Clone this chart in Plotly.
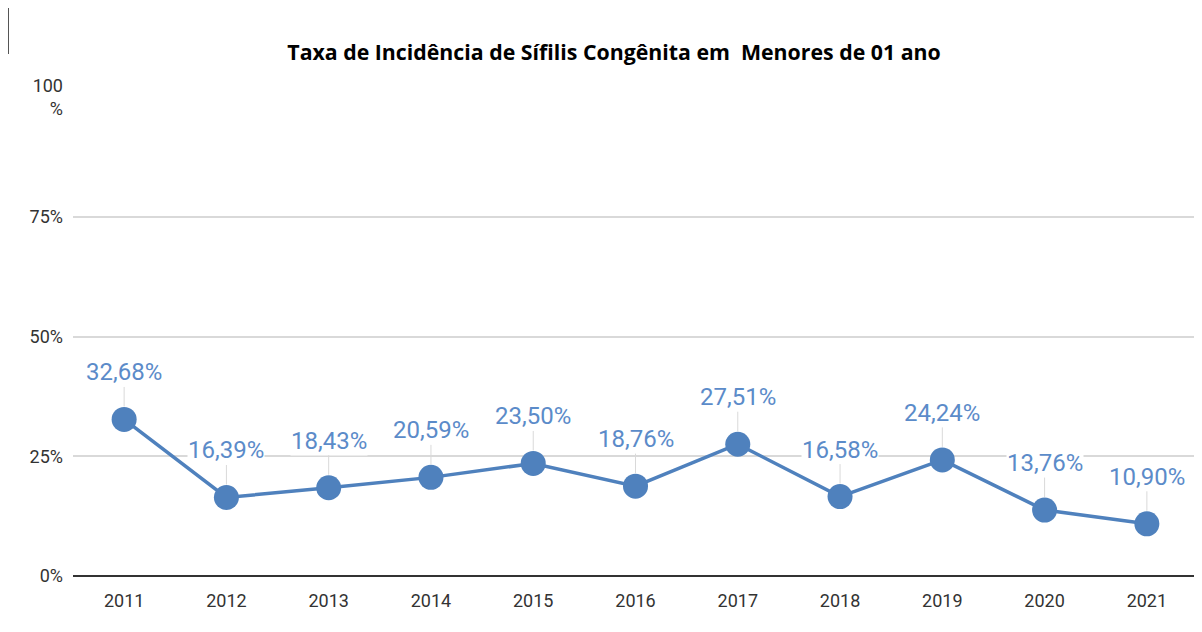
import plotly.graph_objects as go

years = ["2011", "2012", "2013", "2014", "2015", "2016", "2017", "2018", "2019", "2020", "2021"]
rates = [32.68, 16.39, 18.43, 20.59, 23.50, 18.76, 27.51, 16.58, 24.24, 13.76, 10.90]
ytick_vals = [0, 25, 50, 75, 100]
ytick_text = ["0%", "25%", "50%", "75%", "100<br>%"]
title_text = "Taxa de Incidência de Sífilis Congênita em  Menores de 01 ano"

line_color = "#4f81bd"
label_color = "#5b8bc9"

L, T, R, B = 65, 89, 12, 64
PW, PH = 1202 - L - R, 632 - T - B

fig = go.Figure()
fig.add_trace(go.Scatter(
    x=years, y=rates, mode="lines+markers",
    line=dict(color=line_color, width=3.5),
    marker=dict(color=line_color, size=25),
    hoverinfo="skip", showlegend=False,
))

for i, v in enumerate(rates):
    fig.add_annotation(
        x=i, y=v, xref="x", yref="y",
        text=f"{v:.2f}".replace(".", ",") + "%",
        showarrow=True, arrowhead=0, arrowwidth=1, arrowcolor="#d9d9d9",
        ax=0, ay=-47, standoff=13,
        bgcolor="white", borderpad=0,
        font=dict(family="Roboto", size=24, color=label_color),
    )

fig.update_layout(
    width=1202, height=632,
    paper_bgcolor="white", plot_bgcolor="white",
    margin=dict(l=L, r=R, t=T, b=B, autoexpand=False),
    title=dict(text="<b>" + title_text + "</b>", x=(L + 541) / 1202, xanchor="center",
               y=1 - 45 / 632, yanchor="middle",
               font=dict(family="Open Sans", size=21.3, color="#000000")),
    xaxis=dict(type="category", range=[-0.5, len(years) - 0.5],
               showgrid=False, showline=False, ticks="", ticklabelstandoff=12,
               tickfont=dict(family="Roboto", size=18, color="#333333")),
    yaxis=dict(range=[0, 100], tickvals=ytick_vals, ticktext=ytick_text,
               showgrid=True, gridcolor="#d9d9d9", gridwidth=1.5,
               zeroline=True, zerolinecolor="#333333", zerolinewidth=2,
               showline=False, ticks="", ticklabelstandoff=9,
               tickfont=dict(family="Roboto", size=18, color="#333333")),
    shapes=[
        dict(type="line", xref="paper", yref="paper",
             x0=-(L - 0.5) / PW, x1=-(L - 0.5) / PW, y0=1 + T / PH, y1=1 + (T - 46) / PH,
             line=dict(color="#555555", width=1)),
    ],
)

fig.write_html("out.html")
